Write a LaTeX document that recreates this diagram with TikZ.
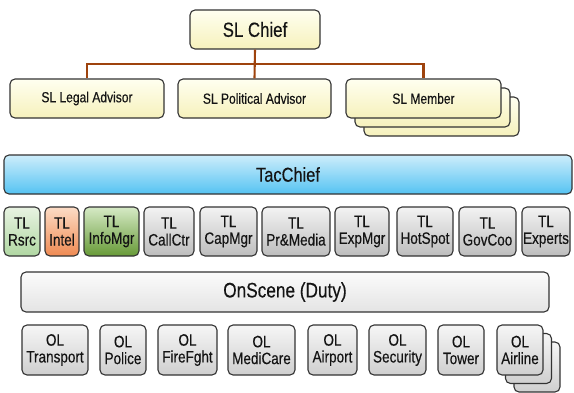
\documentclass[tikz,border=0pt]{standalone}
\usepackage{fontspec}
\setmainfont{Liberation Sans}[FakeStretch=0.82, FakeBold=0.3]

\definecolor{edge}{HTML}{333333}
\definecolor{ink}{HTML}{141414}
\definecolor{wire}{HTML}{9E430D}
\definecolor{slTop}{HTML}{FFFFF0}
\definecolor{slBot}{HTML}{F6F1BC}
\definecolor{tcTop}{HTML}{CDEDFB}
\definecolor{tcBot}{HTML}{55C3F2}
\definecolor{rsTop}{HTML}{E8F3E2}
\definecolor{rsBot}{HTML}{B0D7A2}
\definecolor{inTop}{HTML}{FCDCC6}
\definecolor{inBot}{HTML}{EF8A52}
\definecolor{imTop}{HTML}{D6EAC6}
\definecolor{imBot}{HTML}{679A37}
\definecolor{grTop}{HTML}{F3F3F3}
\definecolor{grBot}{HTML}{BDBDBD}
\definecolor{osTop}{HTML}{FBFBFB}
\definecolor{osBot}{HTML}{E4E4E4}
\definecolor{olTop}{HTML}{F6F6F6}
\definecolor{olBot}{HTML}{CFCFCF}

\tikzset{
  box/.style={draw=edge, line width=1.1pt, rounded corners=5pt, inner sep=0pt,
    align=center, text=ink},
  sz/.style 2 args={minimum width=#1pt, minimum height=#2pt},
  slbox/.style={box, top color=slTop, bottom color=slBot, font=\fontsize{14.7}{16}\selectfont},
  tacbox/.style={box, top color=tcTop, bottom color=tcBot, font=\fontsize{20}{22}\selectfont},
  tlbox/.style={box, top color=grTop, bottom color=grBot, font=\fontsize{16.5}{16.8}\selectfont},
  osbox/.style={box, top color=osTop, bottom color=osBot, font=\fontsize{21}{23}\selectfont},
  olbox/.style={box, top color=olTop, bottom color=olBot, font=\fontsize{16.5}{16.8}\selectfont},
  wireline/.style={draw=wire, line width=2.1pt},
}

\begin{document}
\begin{tikzpicture}[x=1pt, y=-1pt]
  \useasboundingbox (0,0) rectangle (574,392);

  % strategic level
  \node[slbox, sz={130}{39}, font=\fontsize{20.5}{22}\selectfont] (chief) at (255,29.5) {SL Chief};
  \node[slbox, sz={154}{39}] (legal) at (87,98.5) {SL Legal Advisor};
  \node[slbox, sz={153}{39}] (political) at (254.5,98.5) {SL Political Advisor};
  \node[slbox, sz={155}{39}] (member3) at (441.5,116.5) {};
  \node[slbox, sz={155}{39}] (member2) at (432.5,107.5) {};
  \node[slbox, sz={155}{39}] (member) at (423.5,98.5) {SL Member};

  \coordinate (bus) at (255,64);
  \draw[wireline] (chief.south) -- (political.north);
  \draw[wireline] (legal.north) |- (bus) -| (member.north);

  % tactical level
  \node[tacbox, sz={568}{39}] (tac) at (288,174.5) {TacChief};

  \node[tlbox, sz={36}{49}, top color=rsTop, bottom color=rsBot] (rsrc) at (22,231.5) {TL\\Rsrc};
  \node[tlbox, sz={34}{49}, top color=inTop, bottom color=inBot] (intel) at (62,231.5) {TL\\Intel};
  \node[tlbox, sz={55}{49}, top color=imTop, bottom color=imBot] (infomgr) at (111.5,231.5) {TL\\InfoMgr};
  \node[tlbox, sz={50}{49}] (callctr) at (169,231.5) {TL\\CallCtr};
  \node[tlbox, sz={57}{49}] (capmgr) at (228.5,231.5) {TL\\CapMgr};
  \node[tlbox, sz={68}{49}] (prmedia) at (296,231.5) {TL\\Pr\&Media};
  \node[tlbox, sz={54}{49}] (expmgr) at (362,231.5) {TL\\ExpMgr};
  \node[tlbox, sz={56}{49}] (hotspot) at (425,231.5) {TL\\HotSpot};
  \node[tlbox, sz={57}{49}] (govcoo) at (487.5,231.5) {TL\\GovCoo};
  \node[tlbox, sz={48}{49}] (experts) at (546,231.5) {TL\\Experts};

  % operational level
  \node[osbox, sz={528}{40}] (onscene) at (285,292) {OnScene (Duty)};

  \node[olbox, sz={66}{50}] (transport) at (55,350) {OL\\Transport};
  \node[olbox, sz={46}{50}] (police) at (123,350) {OL\\Police};
  \node[olbox, sz={59}{50}] (firefght) at (187.5,350) {OL\\FireFght};
  \node[olbox, sz={67}{50}] (medicare) at (261.5,350) {OL\\MediCare};
  \node[olbox, sz={49}{50}] (airport) at (332.5,350) {OL\\Airport};
  \node[olbox, sz={57}{50}] (security) at (397.5,350) {OL\\Security};
  \node[olbox, sz={46}{50}] (tower) at (461,350) {OL\\Tower};
  \node[olbox, sz={46}{50}] (airline3) at (537,367) {};
  \node[olbox, sz={46}{50}] (airline2) at (528.5,358.5) {};
  \node[olbox, sz={46}{50}] (airline) at (520,350) {OL\\Airline};
\end{tikzpicture}
\end{document}
